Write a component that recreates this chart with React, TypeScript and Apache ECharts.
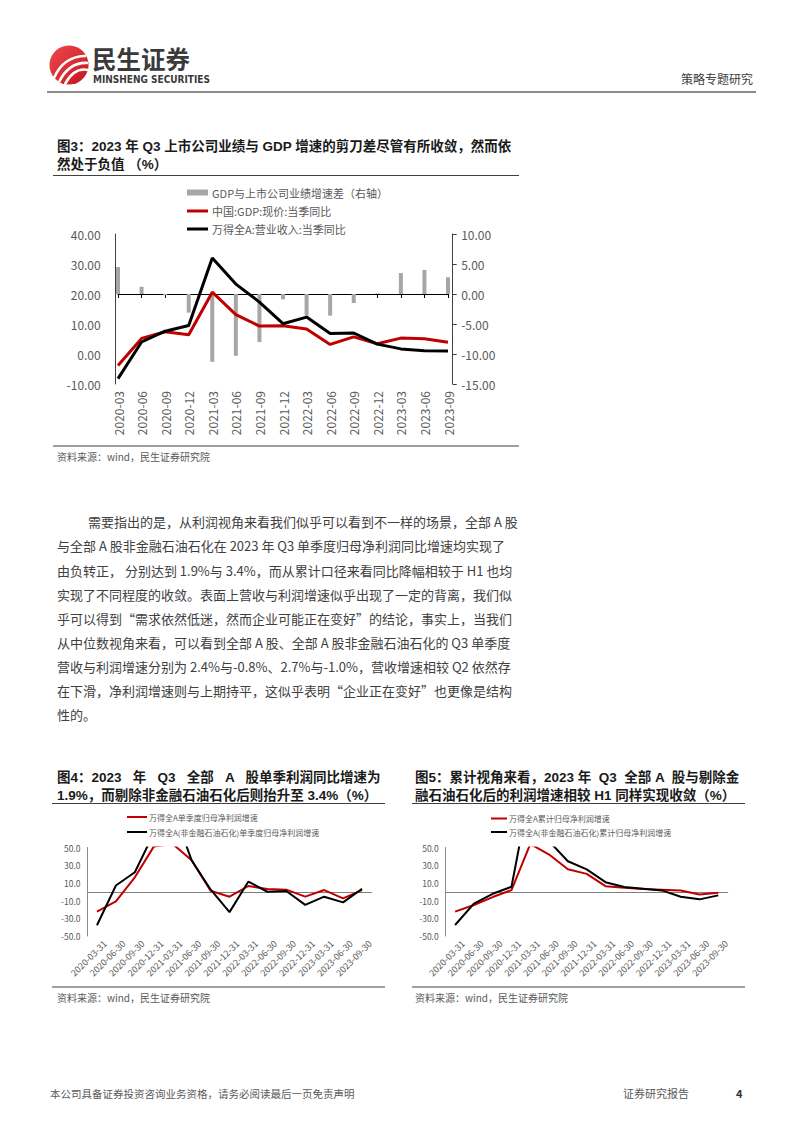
import React, { useEffect, useRef } from 'react';
import * as echarts from 'echarts';

const FONT = '"Noto Sans CJK SC", "Noto Sans", sans-serif';
const TITLE_FONT = '"Liberation Sans", "Noto Sans CJK SC", sans-serif';
const GREY = '#595959';
const RED = '#C00000';

// ---------- 图3 ----------
const quarters3 = ['2020-03', '2020-06', '2020-09', '2020-12', '2021-03', '2021-06', '2021-09', '2021-12', '2022-03', '2022-06', '2022-09', '2022-12', '2023-03', '2023-06', '2023-09'];
const gdpYoy = [-3.8, 5.2, 7.4, 6.4, 20.6, 13.1, 9.3, 9.4, 8.3, 3.2, 5.7, 3.4, 5.3, 5.1, 3.9];
const revenueYoy = [-8.2, 4.0, 7.6, 9.5, 32.0, 23.3, 17.3, 10.1, 12.3, 6.8, 7.0, 3.3, 1.7, 1.1, 1.0];
const gdpMinusRevenue = [4.5, 1.2, -0.2, -3.1, -11.3, -10.3, -8.0, -0.9, -3.6, -3.6, -1.5, 0.1, 3.5, 4.0, 2.8];
const legend3 = ['GDP与上市公司业绩增速差（右轴）', '中国:GDP:现价:当季同比', '万得全A:营业收入:当季同比'];

// ---------- 图4 / 图5 ----------
const dates = ['2020-03-31', '2020-06-30', '2020-09-30', '2020-12-31', '2021-03-31', '2021-06-30', '2021-09-30', '2021-12-31', '2022-03-31', '2022-06-30', '2022-09-30', '2022-12-31', '2023-03-31', '2023-06-30', '2023-09-30'];
const singleAll = [-22.5, -11.0, 16.3, 51, 54, 35.5, 1.2, -5.6, 6.5, 3.0, 2.4, -5.5, 1.9, -7.5, 1.9];
const singleExFin = [-37.8, 7.0, 22.0, 66, 95, 35.5, 2.6, -23.0, 11.5, 0.0, 0.8, -14.8, -5.6, -12.0, 3.4];
const legend4 = ['万得全A单季度归母净利润增速', '万得全A(非金融石油石化)单季度归母净利润增速'];
const cumAll = [-22.5, -15.0, -6.0, 1.9, 54, 42, 25.5, 20.2, 6.3, 4.5, 3.0, 2.3, 1.5, -3.0, -1.1];
const cumExFin = [-37.6, -13.5, -2.3, 5.6, 117, 57, 34.5, 25.3, 10.8, 5.3, 3.4, 1.5, -5.6, -8.6, -4.1];
const legend5 = ['万得全A累计归母净利润增速', '万得全A(非金融石油石化)累计归母净利润增速'];

const bodyLines = [
  '需要指出的是，从利润视角来看我们似乎可以看到不一样的场景，全部 A 股',
  '与全部 A 股非金融石油石化在 2023 年 Q3 单季度归母净利润同比增速均实现了',
  '由负转正， 分别达到 1.9%与 3.4%，而从累计口径来看同比降幅相较于 H1 也均',
  '实现了不同程度的收敛。表面上营收与利润增速似乎出现了一定的背离，我们似',
  '乎可以得到“需求依然低迷，然而企业可能正在变好”的结论，事实上，当我们',
  '从中位数视角来看，可以看到全部 A 股、全部 A 股非金融石油石化的 Q3 单季度',
  '营收与利润增速分别为 2.4%与-0.8%、2.7%与-1.0%，营收增速相较 Q2 依然存',
  '在下滑，净利润增速则与上期持平，这似乎表明“企业正在变好”也更像是结构',
  '性的。',
];

type TO = { size?: number; weight?: string | number; color?: string; align?: string; family?: string };
const txt = (text: string, x: number, y: number, o: TO = {}) => ({
  type: 'text',
  x,
  y,
  silent: true,
  style: {
    text,
    fontSize: o.size ?? 12,
    fontFamily: o.family ?? FONT,
    fontWeight: o.weight ?? 'normal',
    fill: o.color ?? '#333',
    textAlign: o.align ?? 'left',
    textVerticalAlign: 'middle',
  },
});
const title = (text: string, x: number, y: number) =>
  txt(text, x, y, { size: 13.5, weight: 'bold', color: '#1a1a1a', family: TITLE_FONT });
const hline = (x1: number, x2: number, y: number, color: string, w: number) => ({
  type: 'line',
  silent: true,
  shape: { x1, y1: y, x2, y2: y },
  style: { stroke: color, lineWidth: w },
});

export default function App() {
  const ref = useRef<HTMLDivElement>(null);
  useEffect(() => {
    if (!ref.current) return;
    const chart = echarts.init(ref.current, undefined, { renderer: 'svg' });

    const graphics: any[] = [];
    // header
    graphics.push({
      type: 'circle',
      silent: true,
      shape: { cx: 69, cy: 65, r: 19.5 },
      style: {
        fill: new echarts.graphic.LinearGradient(0, 0, 1, 1, [
          { offset: 0, color: '#EE4A4F' },
          { offset: 1, color: '#C3141B' },
        ]),
      },
    });
    [
      [54, 78, 60, 64, 70, 56, 86, 56],
      [59, 82, 66, 68, 75, 62, 88, 63],
      [65, 84, 71, 73, 79, 68, 88, 70],
    ].forEach((p) =>
      graphics.push({
        type: 'bezierCurve',
        silent: true,
        shape: { x1: p[0], y1: p[1], cpx1: p[2], cpy1: p[3], cpx2: p[4], cpy2: p[5], x2: p[6], y2: p[7] },
        style: { stroke: '#fff', lineWidth: 2.6, fill: 'none' },
      })
    );
    graphics.push(txt('民生证券', 92, 58, { size: 24.5, weight: 'bold', color: '#3a3a3a' }));
    graphics.push(
      txt('MINSHENG SECURITIES', 93, 79, {
        size: 10,
        weight: 'bold',
        color: '#3a3a3a',
        family: '"Liberation Sans Narrow", "DejaVu Sans Condensed", sans-serif',
      })
    );
    graphics.push(txt('策略专题研究', 753, 78, { size: 12, color: '#404040', align: 'right' }));
    graphics.push(hline(47, 756, 92, '#8c8c8c', 2));

    // Fig 3 title
    graphics.push(title('图3：2023 年 Q3 上市公司业绩与 GDP 增速的剪刀差尽管有所收敛，然而依', 57, 146));
    graphics.push(title('然处于负值 （%）', 57, 164));
    graphics.push(hline(53, 519, 175.5, '#404040', 1.2));
    // Fig 3 legend
    graphics.push({ type: 'rect', silent: true, shape: { x: 187, y: 189.5, width: 21, height: 6 }, style: { fill: '#A6A6A6' } });
    graphics.push(hline(187, 208, 211, RED, 3));
    graphics.push(hline(187, 208, 229, '#000', 3));
    graphics.push(txt(legend3[0], 212, 192.5, { size: 11, color: GREY }));
    graphics.push(txt(legend3[1], 212, 211, { size: 11, color: GREY }));
    graphics.push(txt(legend3[2], 212, 229, { size: 11, color: GREY }));
    graphics.push(hline(53, 519, 446, '#404040', 1.2));
    graphics.push(txt('资料来源：wind，民生证券研究院', 57, 456.5, { size: 10, color: GREY }));

    // body
    bodyLines.forEach((l, i) =>
      graphics.push(txt(l, i === 0 ? 88 : 57, 521.7 + i * 24.15, { size: 13, color: '#404040' }))
    );

    // Fig 4 title
    graphics.push(title('图4：2023   年   Q3   全部   A   股单季利润同比增速为', 57, 777));
    graphics.push(title('1.9%，而剔除非金融石油石化后则抬升至 3.4%（%）', 57, 795));
    graphics.push(hline(52, 385, 803.5, '#404040', 1.2));
    graphics.push(hline(127, 147, 817, RED, 2));
    graphics.push(hline(127, 147, 832, '#000', 2));
    graphics.push(txt(legend4[0], 149, 817, { size: 8, color: GREY }));
    graphics.push(txt(legend4[1], 149, 832, { size: 8, color: GREY }));
    graphics.push(hline(52, 385, 987, '#404040', 1.2));
    graphics.push(txt('资料来源：wind，民生证券研究院', 57, 997, { size: 10, color: GREY }));

    // Fig 5 title
    graphics.push(title('图5：累计视角来看，2023 年  Q3  全部 A  股与剔除金', 415, 777));
    graphics.push(title('融石油石化后的利润增速相较 H1 同样实现收敛（%）', 415, 795));
    graphics.push(hline(412, 745, 803.5, '#404040', 1.2));
    graphics.push(hline(491, 507, 818.5, RED, 2));
    graphics.push(hline(491, 507, 832, '#000', 2));
    graphics.push(txt(legend5[0], 509, 818.5, { size: 8, color: GREY }));
    graphics.push(txt(legend5[1], 509, 832, { size: 8, color: GREY }));
    graphics.push(hline(412, 745, 987, '#404040', 1.2));
    graphics.push(txt('资料来源：wind，民生证券研究院', 415, 997, { size: 10, color: GREY }));

    // footer
    graphics.push(txt('本公司具备证券投资咨询业务资格，请务必阅读最后一页免责声明', 50, 1093, { size: 10.5, color: '#595959' }));
    graphics.push(txt('证券研究报告', 623, 1093, { size: 11, color: '#595959' }));
    graphics.push(txt('4', 736, 1093, { size: 11, color: '#333', weight: 'bold' }));

    const oddTens = (v: number) => (Math.round(v / 10) % 2 !== 0 ? v.toFixed(1) : '');
    const smallLabel = { fontSize: 8.5, color: GREY, fontFamily: FONT };

    const option: any = {
      animation: false,
      backgroundColor: '#fff',
      textStyle: { fontFamily: FONT },
      grid: [
        { left: 118, top: 234, width: 330, height: 150, outerBoundsMode: 'none' },
        { left: 87.5, top: 847.5, width: 284, height: 88.5, outerBoundsMode: 'none' },
        { left: 445.7, top: 847.5, width: 282, height: 88.5, outerBoundsMode: 'none' },
        { left: 95.5, top: 847.5, width: 284, height: 88.5, outerBoundsMode: 'none' },
        { left: 453.7, top: 847.5, width: 282, height: 88.5, outerBoundsMode: 'none' },
      ],
      xAxis: [
        {
          gridIndex: 0, type: 'category', data: quarters3, boundaryGap: false, position: 'bottom',
          axisLine: { show: false, onZero: false }, axisTick: { show: false }, splitLine: { show: false },
          axisLabel: { rotate: 90, fontSize: 12, color: GREY, margin: 7, interval: 0, fontFamily: FONT },
        },
        {
          gridIndex: 0, type: 'category', data: quarters3, boundaryGap: false, position: 'bottom',
          axisLine: { show: true, onZero: true, onZeroAxisIndex: 1, lineStyle: { color: '#000', width: 1 } },
          axisTick: { show: true, length: 4, interval: 0, lineStyle: { color: '#000' } },
          axisLabel: { show: false }, splitLine: { show: false },
        },
        {
          gridIndex: 1, type: 'category', data: dates, boundaryGap: true, position: 'bottom',
          axisLine: { show: true, onZero: true, lineStyle: { color: '#7f7f7f', width: 1 } },
          axisTick: { show: false }, axisLabel: { show: false }, splitLine: { show: false },
        },
        {
          gridIndex: 3, type: 'category', data: dates, boundaryGap: true, position: 'bottom',
          axisLine: { show: false, onZero: false }, axisTick: { show: false }, splitLine: { show: false },
          axisLabel: { rotate: 45, fontSize: 9, color: GREY, margin: 6, interval: 0, fontFamily: FONT },
        },
        {
          gridIndex: 2, type: 'category', data: dates, boundaryGap: true, position: 'bottom',
          axisLine: { show: true, onZero: true, lineStyle: { color: '#7f7f7f', width: 1 } },
          axisTick: { show: false }, axisLabel: { show: false }, splitLine: { show: false },
        },
        {
          gridIndex: 4, type: 'category', data: dates, boundaryGap: true, position: 'bottom',
          axisLine: { show: false, onZero: false }, axisTick: { show: false }, splitLine: { show: false },
          axisLabel: { rotate: 45, fontSize: 9, color: GREY, margin: 6, interval: 0, fontFamily: FONT },
        },
      ],
      yAxis: [
        {
          gridIndex: 0, type: 'value', position: 'left', min: -10, max: 40, interval: 10, offset: 2.3,
          axisLine: { show: true, lineStyle: { color: '#404040' } }, axisTick: { show: false }, splitLine: { show: false },
          axisLabel: { formatter: (v: number) => v.toFixed(2), fontSize: 12, color: GREY, margin: 15, fontFamily: FONT },
        },
        {
          gridIndex: 0, type: 'value', position: 'right', min: -15, max: 10, interval: 5, offset: 4.7,
          axisLine: { show: true, lineStyle: { color: '#404040' } },
          axisTick: { show: true, length: 4, lineStyle: { color: '#404040' } }, splitLine: { show: false },
          axisLabel: { formatter: (v: number) => v.toFixed(2), fontSize: 12, color: GREY, margin: 8.5, fontFamily: FONT },
        },
        {
          gridIndex: 1, type: 'value', position: 'left', min: -50, max: 50, interval: 10,
          axisLine: { show: true, lineStyle: { color: '#8c8c8c' } }, axisTick: { show: false }, splitLine: { show: false },
          axisLabel: { ...smallLabel, formatter: oddTens, margin: 7 },
        },
        { gridIndex: 3, type: 'value', show: false, min: -50, max: 50 },
        {
          gridIndex: 2, type: 'value', position: 'left', min: -50, max: 50, interval: 10,
          axisLine: { show: true, lineStyle: { color: '#8c8c8c' } }, axisTick: { show: false }, splitLine: { show: false },
          axisLabel: { ...smallLabel, formatter: oddTens, margin: 7 },
        },
        { gridIndex: 4, type: 'value', show: false, min: -50, max: 50 },
      ],
      series: [
        {
          name: legend3[0], type: 'bar', xAxisIndex: 0, yAxisIndex: 1, data: gdpMinusRevenue,
          barWidth: 4, clip: false, itemStyle: { color: '#A6A6A6' },
        },
        {
          name: legend3[1], type: 'line', xAxisIndex: 0, yAxisIndex: 0, data: gdpYoy, symbol: 'none',
          lineStyle: { color: RED, width: 3 }, itemStyle: { color: RED },
        },
        {
          name: legend3[2], type: 'line', xAxisIndex: 0, yAxisIndex: 0, data: revenueYoy, symbol: 'none',
          lineStyle: { color: '#000', width: 3 }, itemStyle: { color: '#000' },
        },
        {
          name: legend4[0], type: 'line', xAxisIndex: 2, yAxisIndex: 2, data: singleAll, symbol: 'none', clip: true,
          lineStyle: { color: RED, width: 2 }, itemStyle: { color: RED },
        },
        {
          name: legend4[1], type: 'line', xAxisIndex: 2, yAxisIndex: 2, data: singleExFin, symbol: 'none', clip: true,
          lineStyle: { color: '#000', width: 2 }, itemStyle: { color: '#000' },
        },
        {
          name: legend5[0], type: 'line', xAxisIndex: 4, yAxisIndex: 4, data: cumAll, symbol: 'none', clip: true,
          lineStyle: { color: RED, width: 2 }, itemStyle: { color: RED },
        },
        {
          name: legend5[1], type: 'line', xAxisIndex: 4, yAxisIndex: 4, data: cumExFin, symbol: 'none', clip: true,
          lineStyle: { color: '#000', width: 2 }, itemStyle: { color: '#000' },
        },
      ],
      graphic: graphics,
    };
    chart.setOption(option);
    return () => chart.dispose();
  }, []);

  return (
    <div
      ref={ref}
      style={{ position: 'absolute', left: 0, top: 0, width: 802, height: 1133, background: '#fff' }}
    />
  );
}
